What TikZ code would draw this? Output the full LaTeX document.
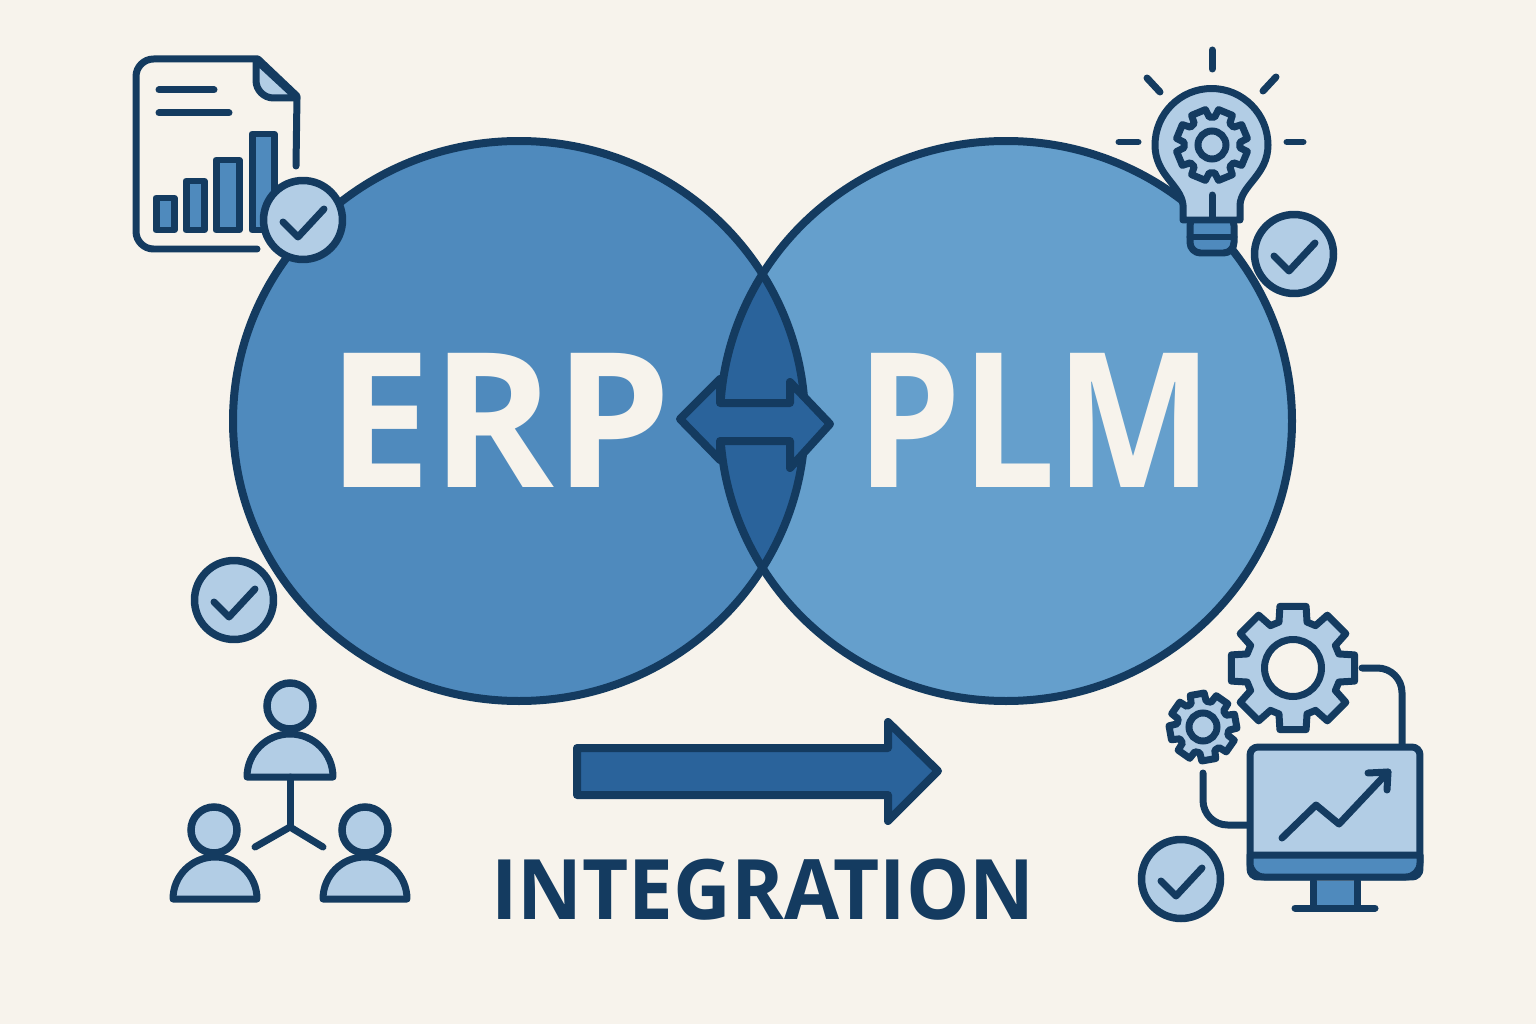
\documentclass[tikz,border=0pt]{standalone}
\usepackage{fontspec}
\setmainfont{Open Sans}
\definecolor{creamback}{HTML}{F7F3EC}
\definecolor{darknavy}{HTML}{143B60}
\definecolor{erpblue}{HTML}{4F8ABD}
\definecolor{plmblue}{HTML}{659FCC}
\definecolor{lensblue}{HTML}{2A639B}
\definecolor{paleblue}{HTML}{B2CDE5}
\newcommand{\gearicon}[5]{
\draw [iconline, fill=paleblue, shift={(#1,-#2)}, rotate=#5] (-17:#3)
  \foreach \a in {0,45,...,315} { -- (\a-17:#3) -- (\a-12:#4) -- (\a+12:#4) -- (\a+17:#3) } -- cycle;
}
\begin{document}
\begin{tikzpicture}[x=0.02cm, y=0.02cm]
\tikzstyle{every node}+=[inner sep=0pt]
\tikzstyle{iconline}=[draw=darknavy, line width=0.14cm, line join=round, line cap=round]
\tikzstyle{vennline}=[draw=darknavy, line width=0.16cm]
\tikzstyle{bigarrow}=[draw=darknavy, line width=0.16cm, line join=round, fill=lensblue]
\tikzstyle{badge}=[circle, draw=darknavy, line width=0.15cm, fill=paleblue, minimum size=1.58cm]
\tikzstyle{hub}=[circle, draw=darknavy, line width=0.14cm]
\tikzstyle{head}=[circle, draw=darknavy, line width=0.15cm, fill=paleblue, minimum size=0.92cm]
\fill [creamback] (0,0) rectangle (1536,-1024);
\useasboundingbox (0,0) rectangle (1536,-1024);
\fill [erpblue] (519,-421) ellipse [x radius=286, y radius=280];
\fill [plmblue] (1006,-421) ellipse [x radius=286, y radius=280];
\begin{scope}
\clip (519,-421) ellipse [x radius=286, y radius=280];
\fill [lensblue] (1006,-421) ellipse [x radius=286, y radius=280];
\end{scope}
\draw [vennline] (519,-421) ellipse [x radius=286, y radius=280];
\draw [vennline] (1006,-421) ellipse [x radius=286, y radius=280];
\node (erptext) [text=creamback, xscale=0.99] at (499,-420) {\fontsize{107}{107}\selectfont\bfseries ERP};
\node (plmtext) [text=creamback, xscale=0.89] at (1035,-420) {\fontsize{107}{107}\selectfont\bfseries PLM};
\draw [bigarrow] (680,-419) -- (720,-379) -- (720,-403) -- (790,-403) -- (790,-382) -- (830,-424) -- (790,-468) -- (790,-441) -- (720,-441) -- (720,-460) -- cycle;
\draw [bigarrow] (577,-748) -- (888,-748) -- (888,-722) -- (938,-771) -- (888,-821) -- (888,-795) -- (577,-795) -- cycle;
\node (integrationtext) [text=darknavy, xscale=0.957] at (763,-890) {\fontsize{47.5}{48}\selectfont\bfseries INTEGRATION};
\draw [iconline] (296,-166) -- (297,-96) -- (258,-59) [rounded corners=10] -- (136,-59) -- (136,-249) [sharp corners] -- (257,-249);
\draw [iconline, fill=paleblue] (256,-60) [rounded corners=10] -- (256,-98) [sharp corners] -- (297,-98) -- cycle;
\draw [iconline] (159,-90) -- (214,-90);
\draw [iconline] (159,-113) -- (229,-113);
\draw [iconline, fill=erpblue] (156,-198) rectangle (174,-230);
\draw [iconline, fill=erpblue] (186,-181) rectangle (204,-230);
\draw [iconline, fill=erpblue] (216,-160) rectangle (239,-230);
\draw [iconline, fill=erpblue] (252,-134) rectangle (274,-230);
\draw [iconline] (1212,-50) -- (1212,-69);
\draw [iconline] (1147,-78) -- (1160,-92);
\draw [iconline] (1276,-77) -- (1263,-91);
\draw [iconline] (1119,-142) -- (1138,-142);
\draw [iconline] (1287,-142) -- (1303,-142);
\draw [iconline, fill=erpblue, rounded corners=6] (1190,-215) -- (1190,-253) -- (1234,-253) -- (1234,-215) -- cycle;
\draw [iconline] (1190,-237) -- (1234,-237);
\draw [iconline, fill=paleblue] (1183,-220) -- (1183,-205) .. controls (1181,-185) and (1155,-175) .. (1155,-145) arc (180:0:56.5) .. controls (1268,-175) and (1241,-185) .. (1240,-205) -- (1240,-220) -- cycle;
\draw [iconline] (1212,-195) -- (1212,-218);
\gearicon{1212}{145}{28}{36}{22.5}
\node (bulbhub) [hub, fill=paleblue, minimum size=0.56cm] at (1212,-145) {};
\gearicon{1293}{668}{48}{63}{0}
\node (bighub) [hub, fill=creamback, minimum size=1.14cm] at (1293,-668) {};
\gearicon{1203}{727}{26}{34}{10}
\node (smallhub) [hub, fill=paleblue, minimum size=0.56cm] at (1203,-727) {};
\node (screen) [draw=darknavy, line width=0.14cm, fill=paleblue, rounded corners=0.16cm, minimum width=3.4cm, minimum height=2.6cm] at (1335,-812) {};
\coordinate (biglink) at (1362,-668);
\coordinate (bigdrop) at (1402,-746);
\coordinate (smalllink) at (1203,-773);
\coordinate (screenleft) at (1249,-825);
\draw [iconline, rounded corners=14] (biglink) -| (bigdrop);
\draw [iconline, rounded corners=14] (smalllink) |- (screenleft);
\draw [iconline, fill=erpblue] (1250,-855) [rounded corners=8] -- (1250,-877) -- (1420,-877) [sharp corners] -- (1420,-855) -- cycle;
\draw [iconline, fill=erpblue] (1313,-881) -- (1313,-908) -- (1357,-908) -- (1357,-881);
\draw [iconline] (1295,-908) -- (1375,-908);
\draw [iconline] (1282,-838) -- (1316,-805) -- (1339,-824) -- (1388,-772);
\draw [iconline] (1368,-773) -- (1388,-772) -- (1387,-790);
\draw [iconline, fill=paleblue] (247,-777) arc (180:0:43) -- cycle;
\node (tophead) [head] at (290,-706) {};
\draw [iconline, fill=paleblue] (173,-899) arc (180:0:42) -- cycle;
\node (lefthead) [head] at (214,-830) {};
\draw [iconline, fill=paleblue] (323,-899) arc (180:0:42) -- cycle;
\node (righthead) [head] at (365,-830) {};
\coordinate (hubjoin) at (290,-827);
\coordinate (topfoot) at (290,-777);
\coordinate (leftfoot) at (255,-847);
\coordinate (rightfoot) at (323,-847);
\draw [iconline] (topfoot) -- (hubjoin);
\draw [iconline] (leftfoot) -- (hubjoin) -- (rightfoot);
\foreach \name/\x/\y in {docbadge/303/220, bulbbadge/1294/254, peoplebadge/234/600, screenbadge/1181/879} {
\node (\name) [badge] at (\x,-\y) {};
\draw [iconline] (\x-20,-\y-2) -- (\x-5,-\y-17) -- (\x+21,-\y+11);
}
\end{tikzpicture}
\end{document}
